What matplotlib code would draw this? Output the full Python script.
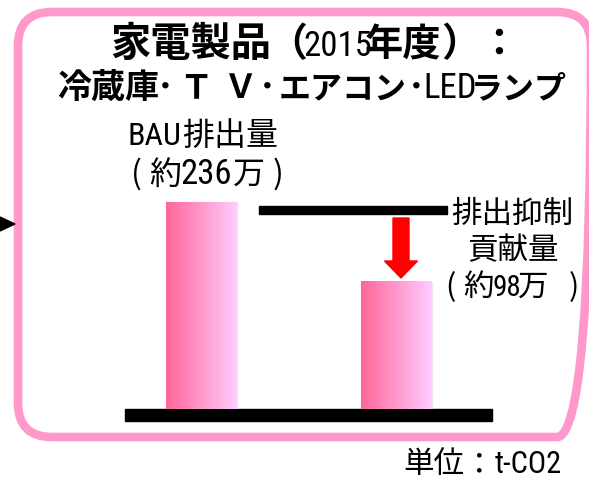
import numpy as np
import matplotlib
matplotlib.use('Agg')
import matplotlib.pyplot as plt
from matplotlib import font_manager as fm
from matplotlib.patches import FancyBboxPatch, Rectangle, FancyArrow, Polygon
from matplotlib.colors import to_rgb

# chart data
categories = ['BAU', '対策後']
values = [236, 145]          # bar heights as drawn (t-CO2, 万)
bau_total = '236'
reduction = '98'
year = '2015'

plt.rcParams['font.family'] = ['Noto Sans CJK JP', 'DejaVu Sans']
JP = 'Noto Sans CJK JP'

# a narrow face for the latin / digits, if one is around
names = {f.name for f in fm.fontManager.ttflist}
NARROW, nscale = JP, 0.8
for cand in ['Roboto Condensed', 'Liberation Sans Narrow', 'Open Sans Condensed', 'Arial Narrow']:
    if cand in names:
        NARROW, nscale = cand, 1.0
        break

W, H = 589, 481
fig = plt.figure(figsize=(W / 100, H / 100), dpi=100)

# overlay axes in pixel coordinates for decorations and text
bg = fig.add_axes([0, 0, 1, 1])
bg.set_xlim(0, W)
bg.set_ylim(H, 0)
bg.axis('off')

pink = '#ff99cc'
bg.add_patch(FancyBboxPatch((18, 13), 573, 425, boxstyle='round,pad=0,rounding_size=34',
                            fill=False, edgecolor=pink, linewidth=6.2))
bg.add_patch(Polygon([(0, 218), (15, 225), (0, 232)], closed=True, color='black'))

# bars with a left-to-right pink gradient
ax = fig.add_axes([125 / W, 71 / H, 367 / W, 263 / H])
ax.axis('off')
ax.patch.set_alpha(0)
bars = ax.bar(range(len(values)), values, width=0.363, color='none',
              edgecolor='#f4e4ec', linewidth=1.0)
grad = np.linspace(0, 1, 256)[None, :, None]
c0, c1 = np.array(to_rgb('#ff6699')), np.array(to_rgb('#ffccff'))
img = c0 * (1 - grad) + c1 * grad
for b in bars:
    x0, w, h = b.get_x(), b.get_width(), b.get_height()
    ax.imshow(img, extent=[x0, x0 + w, 0, h], aspect='auto', zorder=2)
ax.set_xlim(-0.389, 1.488)
ax.set_ylim(0, 300)

# baseline, level line and arrow
bg.add_patch(Rectangle((125, 410), 367, 12, color='black', zorder=3))
bg.add_patch(Rectangle((259, 207), 188, 8, color='black', zorder=3))
bg.add_patch(FancyArrow(401, 219, 0, 60, width=16, head_width=33, head_length=17,
                        length_includes_head=True, color='#ff0000', zorder=3))


def put(x, y, s, size, bold=False, narrow=False):
    # x is where the ink should be centred
    fam = NARROW if narrow else JP
    sz = size * nscale if narrow else size
    em = sz * 100 / 72
    if s == '（':
        x -= 0.22 * em
    elif s == '）':
        x += 0.22 * em
    bg.text(x, y, s, ha='center', va='baseline', fontsize=sz, family=fam,
            fontweight='bold' if bold else 'normal')


# title
put(191, 56, '家電製品', 29, bold=True)
put(296, 56, '（', 28, bold=True)
put(338, 56, year, 25, narrow=True)
put(403, 56, '年度', 27.5, bold=True)
put(452, 56, '）', 28, bold=True)
put(499, 56, '：', 28, bold=True)

put(108, 98, '冷蔵庫', 24.5, bold=True)
put(165, 98, '･', 24, bold=True)
put(195.5, 98, 'Ｔ', 24, bold=True)
put(240.5, 98, 'Ｖ', 24, bold=True)
put(267, 98, '･', 24, bold=True)
put(342.5, 98, 'エアコン', 23, bold=True)
put(416, 98, '･', 24, bold=True)
put(450, 98, 'LED', 25, narrow=True)
put(519, 98, 'ランプ', 23, bold=True)

# BAU label
put(155, 145, 'BAU', 23, narrow=True)
put(230.5, 145, '排出量', 23)
put(136, 184, '(', 23)
put(165, 184, '約', 23)
put(206, 184, bau_total, 25, narrow=True)
put(249, 184, '万', 23)
put(278, 184, ')', 23)

# reduction label
put(512.5, 223, '排出抑制', 22)
put(513, 259, '貢献量', 22)
put(450, 296, '(', 22)
put(478, 296, '約', 22)
put(507, 296, reduction, 21, narrow=True)
put(533, 296, '万', 22)
put(574, 296, ')', 22)

# unit
put(433.5, 473, '単位', 22)
put(478, 473, '：', 22)
put(528.5, 473, 't-CO2', 22, narrow=True)

fig.savefig('out.png', dpi=100)
